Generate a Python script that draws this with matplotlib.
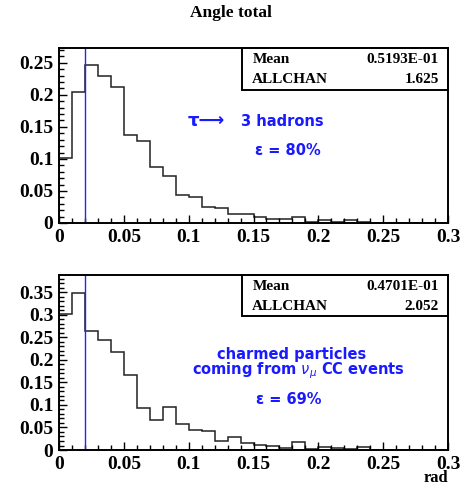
import numpy as np
import matplotlib.pyplot as plt
from matplotlib.ticker import MultipleLocator, FuncFormatter
from matplotlib.patches import Rectangle

# bin edges (0 -> 0.3, width 0.01)
edges = np.linspace(0, 0.3, 31)

# tau -> 3 hadrons
tau_vals = [0.101, 0.205, 0.246, 0.230, 0.212, 0.138, 0.128, 0.088, 0.073, 0.044,
            0.041, 0.0245, 0.023, 0.0146, 0.0146, 0.0099, 0.0068, 0.0068, 0.0089, 0.001,
            0.0042, 0.001, 0.0052, 0.001, 0.0006, 0.0006, 0.0006, 0.0, 0.0, 0.0]

# charmed particles from nu_mu CC
charm_vals = [0.302, 0.348, 0.263, 0.244, 0.218, 0.167, 0.093, 0.066, 0.0945, 0.0576,
              0.0443, 0.0428, 0.019, 0.0288, 0.0148, 0.011, 0.0096, 0.0044, 0.0185, 0.0015,
              0.006, 0.0044, 0.002, 0.006, 0.0008, 0.0, 0.0, 0.0, 0.0, 0.0]

stats = [("0.5193E-01", "1.625"), ("0.4701E-01", "2.052")]
ymax = [0.273, 0.388]
cut = 0.02

serif = 'Liberation Serif'
blue = '#1a1aff'

fig = plt.figure(figsize=(4.61, 4.90), dpi=100)
ax1 = fig.add_axes([0.128, 0.5449, 0.8438, 0.357])
ax2 = fig.add_axes([0.128, 0.0816, 0.8438, 0.357])

fmt = FuncFormatter(lambda v, p: '%g' % round(v, 3))

for ax, vals, st, ym, boxb in zip([ax1, ax2], [tau_vals, charm_vals], stats, ymax, [0.76, 0.766]):
    ax.stairs(vals, edges, color='#222222', lw=1.1)
    ax.axvline(cut, color='#2525f0', lw=1.0)
    ax.set_xlim(0, 0.3)
    ax.set_ylim(0, ym)
    ax.xaxis.set_major_locator(MultipleLocator(0.05))
    ax.xaxis.set_minor_locator(MultipleLocator(0.01))
    ax.yaxis.set_major_locator(MultipleLocator(0.05))
    ax.yaxis.set_minor_locator(MultipleLocator(0.01))
    ax.xaxis.set_major_formatter(fmt)
    ax.yaxis.set_major_formatter(fmt)
    ax.tick_params(which='both', direction='in', top=False, right=False, width=1.0)
    ax.tick_params(which='major', length=6, labelsize=14, pad=4)
    ax.tick_params(which='minor', length=3.5)
    for lab in ax.get_xticklabels() + ax.get_yticklabels():
        lab.set_fontfamily(serif)
        lab.set_fontweight('bold')
    for s in ax.spines.values():
        s.set_linewidth(1.4)
    # stats box
    ax.add_patch(Rectangle((0.470, boxb), 0.53, 1 - boxb, transform=ax.transAxes,
                           fill=False, lw=1.4, ec='black', clip_on=False))
    ax.text(0.497, 0.935, 'Mean', transform=ax.transAxes, family=serif,
            weight='bold', fontsize=11, va='center')
    ax.text(0.497, 0.823, 'ALLCHAN', transform=ax.transAxes,
            family=serif, weight='bold', fontsize=11, va='center')
    ax.text(0.977, 0.935, st[0], transform=ax.transAxes, family=serif,
            weight='bold', fontsize=11, va='center', ha='right')
    ax.text(0.977, 0.823, st[1], transform=ax.transAxes,
            family=serif, weight='bold', fontsize=11, va='center', ha='right')

fig.text(0.5, 0.973, 'Angle total', ha='center', va='center', family=serif,
         weight='bold', fontsize=12.5)

ax1.text(0.0995, 0.159, 'τ⟶', color=blue, fontsize=13, family=['DejaVu Sans'],
         weight='bold', va='center', ha='left')
ax1.text(0.1404, 0.158, '3 hadrons', color=blue, fontsize=10.5,
         weight='bold', va='center', ha='left')
ax1.text(0.151, 0.113, 'ε = 80%', color=blue, fontsize=10.5, weight='bold',
         va='center', ha='left')

ax2.text(0.1795, 0.212, 'charmed particles', color=blue, fontsize=10.5,
         weight='bold', va='center', ha='center')
ax2.text(0.1846, 0.175, r'coming from $\nu_\mu$ CC events', color=blue, fontsize=10.5,
         weight='bold', va='center', ha='center')
ax2.text(0.1775, 0.113, 'ε = 69%', color=blue, fontsize=10.5, weight='bold',
         va='center', ha='center')

ax2.text(1.0, -0.16, 'rad', transform=ax2.transAxes, ha='right', va='center',
         family=serif, weight='bold', fontsize=12)

plt.savefig('out.png', dpi=100)
